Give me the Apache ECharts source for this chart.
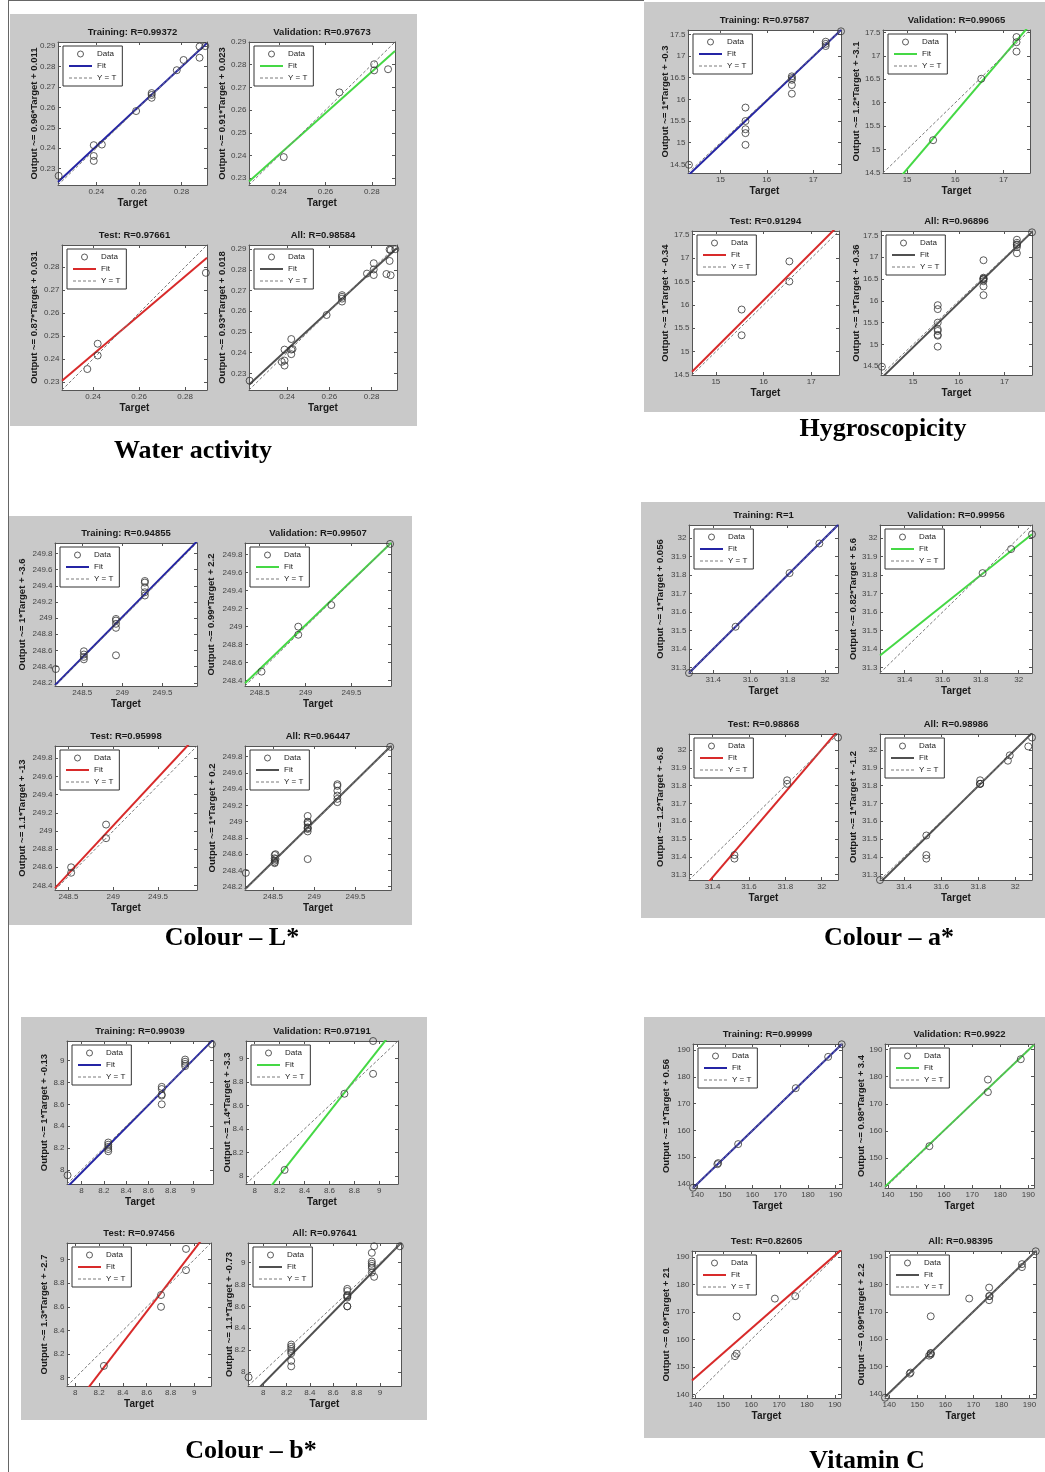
<!DOCTYPE html>
<html><head><meta charset="utf-8">
<script src="https://cdn.jsdelivr.net/npm/echarts@6/dist/echarts.min.js"></script>
<style>html,body{margin:0;padding:0;background:#fff}#c{width:1045px;height:1472px}</style>
</head><body><div id="c"></div><script>
// ---------------- DATA (target, output) ----------------
// Water activity
const waTrain = [[0.2223,0.2265],[0.2388,0.2415],[0.2388,0.2362],[0.2388,0.2338],[0.2426,0.2418],[0.2587,0.2582],[0.2660,0.2670],[0.2660,0.2661],[0.2660,0.2647],[0.2778,0.2782],[0.2810,0.2832],[0.2885,0.2843],[0.2885,0.2898],[0.2912,0.2900]];
const waVal = [[0.2420,0.2393],[0.2660,0.2678],[0.2810,0.2802],[0.2810,0.2775],[0.2870,0.2780]];
const waTest = [[0.2375,0.2356],[0.2420,0.2466],[0.2420,0.2415],[0.2890,0.2896],[0.2890,0.2774]];
const waFit = [[[0.222,0.2235],[0.292,0.2915]],[[0.227,0.2285],[0.290,0.2860]],[[0.2265,0.2305],[0.2895,0.2840]],[[0.222,0.2245],[0.292,0.2905]]];
const waRng = [[0.222,0.292],[0.227,0.290],[0.2265,0.2895],[0.222,0.292]];
const waR = ['0.99372','0.97673','0.97661','0.98584'];
const waEq = ['0.96*Target + 0.011','0.91*Target + 0.023','0.87*Target + 0.031','0.93*Target + 0.018'];
const waXT = [0.24,0.26,0.28];
const waYT = [0.23,0.24,0.25,0.26,0.27,0.28,0.29];
// Hygroscopicity
const hyTrain = [[14.32,14.49],[15.54,15.81],[15.54,15.50],[15.54,15.31],[15.54,15.22],[15.54,14.95],[16.54,16.53],[16.54,16.49],[16.54,16.45],[16.54,16.33],[16.54,16.13],[17.27,17.33],[17.27,17.28],[17.27,17.23],[17.60,17.57]];
const hyVal = [[15.54,15.20],[16.54,16.51],[17.27,17.40],[17.27,17.29],[17.27,17.09]];
const hyTest = [[15.54,15.90],[15.54,15.35],[16.54,16.93],[16.54,16.50]];
const hyFit = [[[14.3,14.24],[17.6,17.6]],[[14.5,13.98],[17.55,17.66]],[[14.5,14.57],[17.58,17.71]],[[14.3,14.22],[17.6,17.58]]];
const hyRng = [[14.3,17.6],[14.5,17.55],[14.5,17.58],[14.3,17.6]];
const hyR = ['0.97587','0.99065','0.91294','0.96896'];
const hyEq = ['1*Target + -0.3','1.2*Target + -3.1','1*Target + -0.34','1*Target + -0.36'];
const hyXT = [15,16,17];
const hyYT = [14.5,15,15.5,16,16.5,17,17.5];
// Colour L*
const lTrain = [[248.17,248.37],[248.52,248.59],[248.52,248.55],[248.52,248.52],[248.52,248.49],[248.92,248.99],[248.92,248.97],[248.92,248.93],[248.92,248.88],[248.92,248.54],[249.28,249.46],[249.28,249.44],[249.28,249.38],[249.28,249.32],[249.28,249.28]];
const lVal = [[248.52,248.50],[248.92,249.00],[248.92,248.91],[249.28,249.24],[249.92,249.92]];
const lTest = [[248.53,248.60],[248.53,248.54],[248.92,249.07],[248.92,248.92]];
const lFit = [[[248.16,248.17],[249.93,249.95]],[[248.34,248.37],[249.93,249.93]],[[248.35,248.37],[249.935,250.05]],[[248.16,248.17],[249.93,249.93]]];
const lRng = [[248.16,249.93],[248.34,249.93],[248.35,249.935],[248.16,249.93]];
const lR = ['0.94855','0.99507','0.95998','0.96447'];
const lEq = ['1*Target + -3.6','0.99*Target + 2.2','1.1*Target + -13','1*Target + 0.2'];
const lXT = [248.5,249,249.5];
const lYT = [248.2,248.4,248.6,248.8,249,249.2,249.4,249.6,249.8];
// Colour a*
const aTrain = [[31.27,31.27],[31.52,31.52],[31.81,31.81],[31.97,31.97]];
const aVal = [[31.81,31.81],[31.96,31.94],[32.07,32.02]];
const aTest = [[31.52,31.41],[31.52,31.39],[31.81,31.83],[31.81,31.81],[32.09,32.07]];
const aFit = [[[31.27,31.27],[32.07,32.07]],[[31.27,31.365],[32.07,32.02]],[[31.27,31.13],[32.09,32.11]],[[31.27,31.255],[32.09,32.095]]];
const aRng = [[31.27,32.07],[31.27,32.07],[31.27,32.09],[31.27,32.09]];
const aR = ['1','0.99956','0.98868','0.98986'];
const aEq = ['1*Target + 0.056','0.82*Target + 5.6','1.2*Target + -6.8','1*Target + -1.2'];
const aXT = [31.4,31.6,31.8,32];
const aYT = [31.3,31.4,31.5,31.6,31.7,31.8,31.9,32];
// Colour b*
const bTrain = [[7.875,7.95],[8.24,8.25],[8.24,8.23],[8.24,8.21],[8.24,8.19],[8.24,8.17],[8.72,8.76],[8.72,8.74],[8.72,8.69],[8.72,8.68],[8.72,8.60],[8.93,9.01],[8.93,8.99],[8.93,8.97],[8.93,8.95],[9.17,9.15]];
const bVal = [[8.24,8.05],[8.72,8.70],[8.95,9.15],[8.95,8.87]];
const bTest = [[8.24,8.10],[8.72,8.70],[8.72,8.60],[8.93,9.09],[8.93,8.91]];
const bFit = [[[7.87,7.84],[9.18,9.19]],[[7.93,7.64],[9.15,9.29]],[[7.93,7.68],[9.14,9.27]],[[7.87,7.75],[9.18,9.18]]];
const bRng = [[7.87,9.18],[7.93,9.15],[7.93,9.14],[7.87,9.18]];
const bR = ['0.99039','0.97191','0.97456','0.97641'];
const bEq = ['1*Target + -0.13','1.4*Target + -3.3','1.3*Target + -2.7','1.1*Target + -0.73'];
const bXT = [8,8.2,8.4,8.6,8.8,9];
const bYT = [8,8.2,8.4,8.6,8.8,9];
// Vitamin C
const vTrain = [[138.5,138.6],[147.3,147.4],[147.6,147.8],[154.8,154.9],[175.6,175.8],[187.3,187.5],[192.2,192.2]];
const vVal = [[154.8,154.4],[175.6,178.9],[175.6,174.3],[187.3,186.4]];
const vTest = [[154.2,154.0],[154.8,154.9],[154.8,168.4],[168.5,174.9],[175.8,175.8]];
const vFit = [[[138.5,138.5],[192.3,192.3]],[[139,139.5],[192,191.7]],[[138.8,145.2],[192.2,192.6]],[[138.5,138.9],[192.3,192.3]]];
const vRng = [[138.5,192.3],[139,192],[138.8,192.2],[138.5,192.3]];
const vR = ['0.99999','0.9922','0.82605','0.98395'];
const vEq = ['1*Target + 0.56','0.98*Target + 3.4','0.9*Target + 21','0.99*Target + 2.2'];
const vXT = [140,150,160,170,180,190];
const vYT = [140,150,160,170,180,190];

const KINDS = ['Training','Validation','Test','All'];
const captions = ['Water activity','Hygroscopicity','Colour \u2013 L*','Colour \u2013 a*','Colour \u2013 b*','Vitamin C'];

// ---------------- LAYOUT ----------------
const panelBoxes = [[10,14,407,412],[644,2,401,410],[8,516,404,409],[641,502,404,416],[21,1017,406,403],[644,1017,401,421]];
const captionPos = [[193,451],[883,429],[232,938],[889,938],[251,1451],[867,1461]];
// left, top, width, height, yNameGap
const plotBoxes = [
 [58,42,149,143,19],[249,42,146,143,22],[62,245,145,145,23],[249,245,148,145,22],
 [688,30,153,143,18],[883,30,147,143,22],[692,231,147,144,22],[881,231,151,144,20],
 [55,543,142,143,28],[245,543,146,143,29],[55,746,142,144,28],[245,746,146,144,28],
 [689,525,149,148,24],[880,525,152,148,22],[689,734,149,146,24],[880,734,152,146,22],
 [67,1041,146,143,18],[246,1041,152,143,14],[67,1243,144,143,18],[248,1243,153,143,14],
 [693,1044,149,144,22],[885,1044,149,144,19],[692,1251,149,147,21],[885,1251,151,147,19]
];
const FIT_COLORS = ['#2424a4','#45d845','#d82a2a','#505050'];
const FONT = '"Liberation Sans", Arial, sans-serif';
const TICKFONT = '"Liberation Sans Narrow", "Arial Narrow", "Liberation Sans", Arial, sans-serif';

const panelsData = [
  {sets:[waTrain,waVal,waTest], fit:waFit, rng:waRng, R:waR, eq:waEq, xt:waXT, yt:waYT},
  {sets:[hyTrain,hyVal,hyTest], fit:hyFit, rng:hyRng, R:hyR, eq:hyEq, xt:hyXT, yt:hyYT},
  {sets:[lTrain,lVal,lTest], fit:lFit, rng:lRng, R:lR, eq:lEq, xt:lXT, yt:lYT},
  {sets:[aTrain,aVal,aTest], fit:aFit, rng:aRng, R:aR, eq:aEq, xt:aXT, yt:aYT},
  {sets:[bTrain,bVal,bTest], fit:bFit, rng:bRng, R:bR, eq:bEq, xt:bXT, yt:bYT},
  {sets:[vTrain,vVal,vTest], fit:vFit, rng:vRng, R:vR, eq:vEq, xt:vXT, yt:vYT}
];

const grids=[], xAxes=[], yAxes=[], series=[], legends=[], graphics=[];
// page frame lines
graphics.push({type:'line', z:-50, shape:{x1:8.5,y1:0,x2:8.5,y2:1472}, style:{stroke:'#666',lineWidth:1}});
graphics.push({type:'line', z:-50, shape:{x1:8,y1:0.5,x2:644,y2:0.5}, style:{stroke:'#666',lineWidth:1}});
panelBoxes.forEach(b => graphics.push({type:'rect', z:-100, shape:{x:b[0],y:b[1],width:b[2],height:b[3]}, style:{fill:'#c9c9c9'}}));
captions.forEach((t,i) => graphics.push({type:'text', x:captionPos[i][0], y:captionPos[i][1], z:10,
  style:{text:t, font:'bold 26px "Liberation Serif", "Times New Roman", serif', fill:'#000', align:'center', verticalAlign:'middle', textAlign:'center', textVerticalAlign:'middle'}}));

function inRange(arr, lo, hi){ const e=(hi-lo)*0.005; return arr.filter(v => v>=lo-e && v<=hi+e); }
function axis(lo, hi, ticks, pos, labels){
  return {type:'value', min:lo, max:hi, position:pos, nameMoveOverlap:false,
    axisLine:{show:true,onZero:false,lineStyle:{color:'#555',width:1}},
    axisTick:{show:true,inside:true,length:3,customValues:ticks,lineStyle:{color:'#555'}},
    axisLabel:{show:labels,customValues:ticks,fontSize:8,color:'#444',margin:2.5,fontFamily:TICKFONT},
    splitLine:{show:false}};
}
const NOSYM = {color:'rgba(0,0,0,0)', borderColor:'rgba(0,0,0,0)', borderWidth:0, opacity:0};

panelsData.forEach((p, pi) => {
  const allPts = [...p.sets[0], ...p.sets[1], ...p.sets[2]];
  const sets = [p.sets[0], p.sets[1], p.sets[2], allPts];
  for (let k=0;k<4;k++){
    const i = pi*4+k, b = plotBoxes[i];
    const lo = p.rng[k][0], hi = p.rng[k][1];
    grids.push({left:b[0], top:b[1], width:b[2], height:b[3], show:true, backgroundColor:'#fff', borderWidth:0, containLabel:false});
    const xt = inRange(p.xt, lo, hi), yt = inRange(p.yt, lo, hi);
    xAxes.push(Object.assign(axis(lo,hi,xt,'bottom',true), {gridIndex:i, name:'Target', nameLocation:'middle', nameGap:13,
      nameTextStyle:{fontWeight:'bold',fontSize:10,color:'#1a1a1a',fontFamily:FONT}}));
    xAxes.push(Object.assign(axis(lo,hi,xt,'top',false), {gridIndex:i, name:KINDS[k]+': R='+p.R[k], nameLocation:'middle', nameGap:5,
      nameTextStyle:{fontWeight:'bold',fontSize:9.5,color:'#1a1a1a',fontFamily:FONT}}));
    yAxes.push(Object.assign(axis(lo,hi,yt,'left',true), {gridIndex:i, name:'Output ~= '+p.eq[k], nameLocation:'middle', nameRotate:90, nameGap:b[4],
      nameTextStyle:{fontWeight:'bold',fontSize:9.5,color:'#1a1a1a',fontFamily:FONT}}));
    yAxes.push(Object.assign(axis(lo,hi,yt,'right',false), {gridIndex:i}));
    const c = FIT_COLORS[k];
    series.push({type:'scatter', name:'Data_'+i, xAxisIndex:2*i, yAxisIndex:2*i, data:sets[k], symbol:'circle', symbolSize:7,
      itemStyle:{color:'rgba(0,0,0,0)', borderColor:'#333', borderWidth:1}, z:3, silent:true});
    series.push({type:'line', name:'Fit_'+i, xAxisIndex:2*i, yAxisIndex:2*i, data:p.fit[k], symbol:'none', clip:true,
      lineStyle:{color:c,width:2}, itemStyle:{color:c}, z:2, silent:true});
    series.push({type:'line', name:'Y = T_'+i, xAxisIndex:2*i, yAxisIndex:2*i, data:[[lo,lo],[hi,hi]], symbol:'none', clip:true,
      lineStyle:{color:'#7a7a7a',width:1,type:[3,2]}, itemStyle:{color:'#7a7a7a'}, z:4, silent:true});
    legends.push({left:b[0]+5, top:b[1]+4, orient:'vertical', selectedMode:false,
      data:[{name:'Data_'+i, icon:'circle', itemStyle:{color:'rgba(0,0,0,0)', borderColor:'#333', borderWidth:1}},
            {name:'Fit_'+i, itemStyle:NOSYM, lineStyle:{color:c, width:2}},
            {name:'Y = T_'+i, itemStyle:NOSYM, lineStyle:{color:'#7a7a7a', width:1, type:[3,2]}}],
      formatter: n => n.split('_')[0], itemWidth:23, itemHeight:6, itemGap:2, padding:[3,6,3,5],
      backgroundColor:'#fff', borderColor:'#333', borderWidth:1, borderRadius:0,
      textStyle:{fontSize:8, color:'#222', fontFamily:FONT, lineHeight:10}});
  }
});

const chart = echarts.init(document.getElementById('c'), null, {renderer:'canvas', width:1045, height:1472});
chart.setOption({animation:false, backgroundColor:'#fff', grid:grids, xAxis:xAxes, yAxis:yAxes, series:series, legend:legends, graphic:graphics});
</script></body></html>
